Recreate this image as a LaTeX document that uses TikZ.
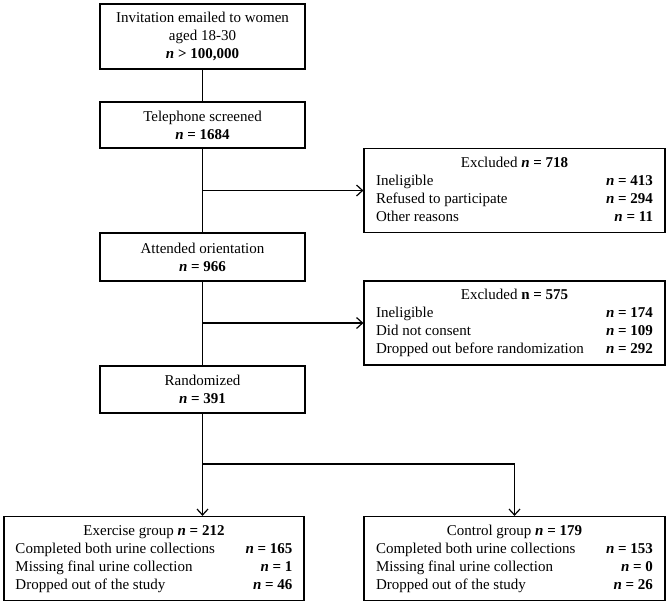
\documentclass[tikz,border=0pt]{standalone}
\usepackage{fontspec}
\setmainfont{Liberation Serif}
\usepackage{tikz}
\usetikzlibrary{arrows.meta}
\newcommand{\nn}[1]{\textbf{\textit{n} #1}}
\tikzset{
  >={Straight Barb[length=6pt,width=11pt]},
  flowbox/.style={draw,line width=1.2pt,align=center,minimum width=205pt,inner sep=2pt},
  listbox/.style={draw,line width=1.2pt,minimum width=301pt,minimum height=84pt,inner sep=0pt},
  link/.style={line width=1.2pt},
}
\newcommand{\listtab}[4]{\begin{tabular*}{277pt}{@{}l@{\extracolsep{\fill}}r@{}}\multicolumn{2}{c}{#1}\\#2\\#3\\#4\end{tabular*}}

\begin{document}
\begin{tikzpicture}[x=1pt,y=-1pt,font=\fontsize{15}{18}\selectfont]
				\useasboundingbox (0,0) rectangle (671,605);
				\node [flowbox,minimum height=65pt](inv) at (202.5,36.5){Invitation emailed to women\\aged 18-30\\\nn{> 100,000}};
				\node [flowbox,minimum height=46pt](tel) at (202.5,125){Telephone screened\\\nn{= 1684}};
				\node [flowbox,minimum height=48pt](att) at (202.5,257){Attended orientation\\\nn{= 966}};
				\node [flowbox,minimum height=47pt](rnd) at (202.5,389.5){Randomized\\\nn{= 391}};
				\node [listbox](exa) at (514.5,190.5){\listtab{Excluded \nn{= 718}}{Ineligible & \nn{= 413}}{Refused to participate & \nn{= 294}}{Other reasons & \nn{= 11}}};
				\node [listbox](exb) at (514.5,323){\listtab{Excluded \textbf{n = 575}}{Ineligible & \nn{= 174}}{Did not consent & \nn{= 109}}{Dropped out before randomization & \nn{= 292}}};
				\node [listbox,minimum width=300pt](exr) at (154,558.5){\listtab{Exercise group \nn{= 212}}{Completed both urine collections & \nn{= 165}}{Missing final urine collection & \nn{= 1}}{Dropped out of the study & \nn{= 46}}};
				\node [listbox](ctl) at (514.5,558.5){\listtab{Control group \nn{= 179}}{Completed both urine collections & \nn{= 153}}{Missing final urine collection & \nn{= 0}}{Dropped out of the study & \nn{= 26}}};
				\coordinate (split) at (202.5,464);
				\draw [link](inv)--(tel);
				\draw [link](tel)--(att);
				\draw [link](att)--(rnd);
				\draw [link,->](tel.south|-exa.west)--(exa.west);
				\draw [link,->](att.south|-exb.west)--(exb.west);
				\draw [link](rnd)--(split);
				\draw [link,->](split)--(split|-exr.north);
				\draw [link,->](split)-|(ctl.north);
				
			\end{tikzpicture}
\end{document}
